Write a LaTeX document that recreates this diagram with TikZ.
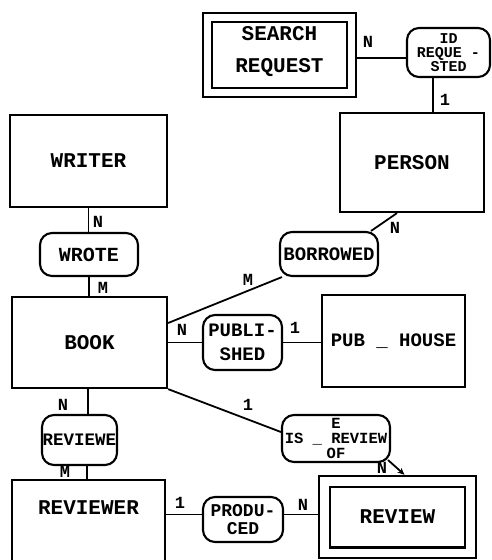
\documentclass[tikz,border=0pt]{standalone}
\usepackage{fontspec}
\newfontfamily\tw{Liberation Mono}
\usetikzlibrary{arrows.meta}
\tikzset{
  ent/.style={draw, line width=2.2pt, inner sep=0pt, align=center,
    font=\tw\bfseries\fontsize{21}{24}\selectfont},
  wk/.style={ent, double, double distance=#1, outer sep=#1/2+2.2pt},
  rel/.style={draw, line width=2.1pt, rounded corners=12pt, inner sep=0pt, align=center,
    font=\tw\bfseries\fontsize{19}{18}\selectfont},
  conn/.style={line width=1.8pt},
  card/.style={font=\tw\bfseries\fontsize{17}{17}\selectfont, inner sep=0pt},
}
\begin{document}
\begin{tikzpicture}[x=1pt, y=-1pt]
\useasboundingbox (0,0) rectangle (491,560);

% entities
\node[wk=6.8pt, minimum width=143.5pt, minimum height=75pt,
  label={[name=searchT, yshift=3pt, align=center, font=\tw\bfseries\fontsize{21}{32}\selectfont]center:SEARCH\\REQUEST}]
  (searchO) at (279.5,55) {};
\node[ent, minimum width=144pt, minimum height=99pt] (person) at (412,162.5) {PERSON};
\node[ent, minimum width=157pt, minimum height=92pt] (writer) at (88.5,161) {WRITER};
\node[ent, minimum width=155pt, minimum height=91pt] (book) at (89.5,342.5) {BOOK};
\node[ent, minimum width=143pt, minimum height=92pt, font=\tw\bfseries\fontsize{19}{22}\selectfont] (pubhouse) at (393.5,341) {PUB \_ HOUSE};
\node[ent, minimum width=153pt, minimum height=100pt,
  label={[name=reviewerT, yshift=22pt, font=\tw\bfseries\fontsize{21}{24}\selectfont]center:REVIEWER}]
  (reviewer) at (88.5,530) {};
\node[wk=8.5pt, minimum width=146pt, minimum height=71.5pt] (reviewO) at (397.5,517) {REVIEW};

% relationships
\node[rel, minimum width=83pt, minimum height=49pt, font=\tw\bfseries\fontsize{15}{14}\selectfont] (idreq) at (448.5,52.5) {ID\\REQUE -\\STED};
\node[rel, minimum width=98pt, minimum height=43pt, font=\tw\bfseries\fontsize{20}{20}\selectfont] (wrote) at (89,254.5) {WROTE};
\node[rel, minimum width=98pt, minimum height=44pt] (borrowed) at (329,254) {BORROWED};
\node[rel, minimum width=79pt, minimum height=55pt, font=\tw\bfseries\fontsize{19}{24}\selectfont] (published) at (242.5,342.5) {PUBLI-\\SHED};
\node[rel, minimum width=75pt, minimum height=50pt, font=\tw\bfseries\fontsize{17.5}{18}\selectfont] (reviewe) at (79.5,440) {REVIEWE};
\node[rel, minimum width=108pt, minimum height=47pt, font=\tw\bfseries\fontsize{15.5}{15}\selectfont] (isreview) at (336,438.5) {E\\IS \_ REVIEW\\OF};
\node[rel, minimum width=80pt, minimum height=45pt, font=\tw\bfseries\fontsize{18}{18.5}\selectfont] (produced) at (243,519.5) {PRODU-\\CED};

% connectors
\draw[conn] ([yshift=-3pt]searchO.east) -- ([yshift=-3pt]searchO.east -| idreq.west);
\draw[conn] ([xshift=-15.5pt]idreq.south) -- ([xshift=-15.5pt]idreq.south |- person.north);
\draw[conn] (writer.south) -- (writer.south |- wrote.north);
\draw[conn] (wrote.south) -- (wrote.south |- book.north);
\draw[conn] ([xshift=-15pt]person.south) -- ([xshift=-8pt]borrowed.north east);
\draw[conn] ([xshift=3pt]borrowed.south west) -- ([yshift=19.5pt]book.east);
\draw[conn] (book.east) -- (published.west);
\draw[conn] (published.east) -- (published.east -| pubhouse.west);
\draw[conn] ([xshift=-1.5pt]book.south) -- ([xshift=-1.5pt]book.south |- reviewe.north);
\draw[conn] ([xshift=7.5pt]reviewe.south) -- ([xshift=7.5pt]reviewe.south |- reviewer.north);
\draw[conn] (book.south east) -- ([yshift=6.5pt]isreview.west);
\draw[conn, -{Stealth[length=7pt,width=6pt]}] ([shift={(-3pt,3pt)}]isreview.south east) -- ([xshift=7pt]reviewO.north);
\draw[conn] ([yshift=5pt]produced.west -| reviewer.east) -- ([yshift=5pt]produced.west);
\draw[conn] ([yshift=5pt]produced.east) -- ([yshift=5pt]produced.east -| reviewO.west);

% cardinalities
\node[card] (c1) at (368,42) {N};
\node[card] (c2) at (445,100) {1};
\node[card] (c3) at (98,222) {N};
\node[card] (c4) at (103,288) {M};
\node[card] (c5) at (395,228) {N};
\node[card] (c6) at (248,280) {M};
\node[card] (c7) at (182,330) {N};
\node[card] (c8) at (295,328) {1};
\node[card] (c9) at (63,405) {N};
\node[card] (c10) at (248,405) {1};
\node[card] (c11) at (65,472) {M};
\node[card] (c12) at (382,468) {N};
\node[card] (c13) at (180,503) {1};
\node[card] (c14) at (303,505) {N};
\end{tikzpicture}
\end{document}
